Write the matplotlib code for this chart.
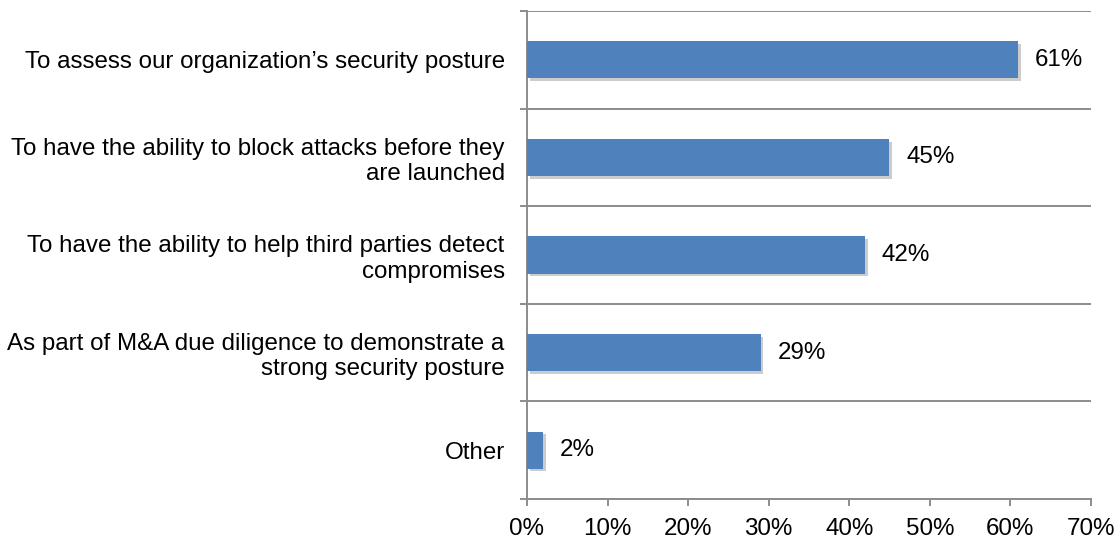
import matplotlib
matplotlib.use("Agg")
import matplotlib.pyplot as plt
import matplotlib.patheffects as pe
import numpy as np

categories = [
    "To assess our organization\u2019s security posture",
    "To have the ability to block attacks before they\nare launched",
    "To have the ability to help third parties detect\ncompromises",
    "As part of M&A due diligence to demonstrate a\nstrong security posture",
    "Other",
]
values = [61, 45, 42, 29, 2]
xticks = [0, 10, 20, 30, 40, 50, 60, 70]

plt.rcParams["font.family"] = ["Liberation Sans", "DejaVu Sans"]
bar_color = "#4F81BD"
grid_color = "#8C8C8C"
fs = 17.4

fig = plt.figure(figsize=(11.2, 5.4), dpi=100)
ax = fig.add_axes([0.4705, 0.076, 0.5035, 0.9036])

y = np.arange(len(categories))
bars = ax.barh(y, values, height=0.38, color=bar_color, zorder=3,
               path_effects=[pe.SimplePatchShadow(offset=(2, -2), shadow_rgbFace="#808080", alpha=0.4),
                             pe.Normal()])

for yi, v in zip(y, values):
    ax.annotate(f"{v}%", xy=(v, yi), xytext=(12, 0), textcoords="offset points",
                va="center", ha="left", fontsize=fs, color="black")

ax.set_xlim(0, 70)
ax.set_ylim(len(categories) - 0.5, -0.5)

ax.set_xticks(xticks)
ax.set_xticklabels([f"{t}%" for t in xticks], fontsize=fs)
ax.set_yticks(y)
ax.set_yticklabels(categories, fontsize=fs, ha="right")

# Category boundaries carry the gridlines and outward ticks
bounds = np.arange(len(categories) + 1) - 0.5
ax.set_yticks(bounds, minor=True)
ax.yaxis.grid(True, which="minor", color=grid_color, linewidth=1.4, zorder=0)
ax.tick_params(axis="y", which="major", length=0, pad=16)
ax.tick_params(axis="y", which="minor", length=5, width=1.4, color=grid_color)
ax.tick_params(axis="x", which="major", length=5, width=1.4, color=grid_color, pad=9)

for side in ("top", "right"):
    ax.spines[side].set_visible(False)
for side in ("left", "bottom"):
    ax.spines[side].set_color(grid_color)
    ax.spines[side].set_linewidth(1.4)

fig.savefig("out.png", dpi=100)
